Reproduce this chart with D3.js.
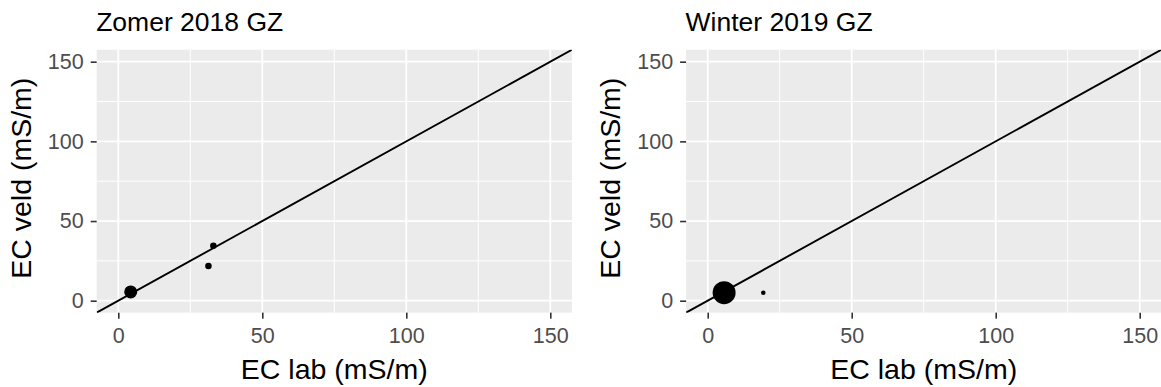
<!DOCTYPE html>
<html>
<head>
<meta charset="utf-8">
<script src="https://cdn.jsdelivr.net/npm/d3@7"></script>
<style>
  html, body { margin: 0; padding: 0; background: #ffffff; }
  svg { display: block; font-family: "Liberation Sans", Arial, sans-serif; }
</style>
</head>
<body>
<svg id="chart" width="1161" height="387"></svg>
<script>
// Field EC vs lab EC, one panel per sampling campaign
const panelTitles = ["Zomer 2018 GZ", "Winter 2019 GZ"];

// Zomer 2018 GZ
const zomerLab  = [4.3, 33.0, 31.3];
const zomerVeld = [5.5, 34.5, 21.8];
const zomerN    = [4, 1, 1];

// Winter 2019 GZ
const winterLab  = [5.7, 19.3];
const winterVeld = [5.0, 5.0];
const winterN    = [25, 1];

const majorTicks = [0, 50, 100, 150];
const minorTicks = [25, 75, 125];
const axisLimits = [0, 150];

const xTitle = "EC lab (mS/m)";
const yTitle = "EC veld (mS/m)";

const panels = [
  { title: panelTitles[0], lab: zomerLab,  veld: zomerVeld,  n: zomerN,  left: 96.7,  rUnit: 3.25 },
  { title: panelTitles[1], lab: winterLab, veld: winterVeld, n: winterN, left: 686.1, rUnit: 2.3 }
];

const svg = d3.select("#chart");
const panelW = 475.2, panelTop = 49.75, panelBottom = 312.65;
const pad = (axisLimits[1] - axisLimits[0]) * 0.05;
const dom = [axisLimits[0] - pad, axisLimits[1] + pad];

panels.forEach((p, i) => {
  const x = d3.scaleLinear().domain(dom).range([p.left, p.left + panelW]);
  const y = d3.scaleLinear().domain(dom).range([panelBottom, panelTop]);
  const r = d3.scaleSqrt().domain([0, 1]).range([0, p.rUnit]);
  const g = svg.append("g");

  const clipId = "clip" + i;
  svg.append("defs").append("clipPath").attr("id", clipId)
    .append("rect").attr("x", x.range()[0]).attr("y", panelTop)
    .attr("width", panelW).attr("height", panelBottom - panelTop);

  // panel background
  g.append("rect").attr("x", x.range()[0]).attr("y", panelTop)
    .attr("width", panelW).attr("height", panelBottom - panelTop).attr("fill", "#EBEBEB");

  // minor grid
  g.selectAll(".vminor").data(minorTicks).join("line")
    .attr("x1", d => x(d)).attr("x2", d => x(d)).attr("y1", panelTop).attr("y2", panelBottom)
    .attr("stroke", "#ffffff").attr("stroke-width", 1);
  g.selectAll(".hminor").data(minorTicks).join("line")
    .attr("y1", d => y(d)).attr("y2", d => y(d)).attr("x1", x.range()[0]).attr("x2", x.range()[1])
    .attr("stroke", "#ffffff").attr("stroke-width", 1);
  // major grid
  g.selectAll(".vmajor").data(majorTicks).join("line")
    .attr("x1", d => x(d)).attr("x2", d => x(d)).attr("y1", panelTop).attr("y2", panelBottom)
    .attr("stroke", "#ffffff").attr("stroke-width", 1.8);
  g.selectAll(".hmajor").data(majorTicks).join("line")
    .attr("y1", d => y(d)).attr("y2", d => y(d)).attr("x1", x.range()[0]).attr("x2", x.range()[1])
    .attr("stroke", "#ffffff").attr("stroke-width", 1.8);

  // 1:1 line
  const plotArea = g.append("g").attr("clip-path", `url(#${clipId})`);
  plotArea.append("line")
    .attr("x1", x(dom[0])).attr("y1", y(dom[0]))
    .attr("x2", x(dom[1])).attr("y2", y(dom[1]))
    .attr("stroke", "#000000").attr("stroke-width", 1.9);

  // points
  const pts = p.lab.map((v, k) => ({ lab: v, veld: p.veld[k], n: p.n[k] }));
  g.selectAll("circle.pt").data(pts).join("circle")
    .attr("class", "pt")
    .attr("cx", d => x(d.lab)).attr("cy", d => y(d.veld)).attr("r", d => r(d.n))
    .attr("fill", "#000000");

  // axes
  const xAxis = d3.axisBottom(x).tickValues(majorTicks).tickSize(6).tickPadding(9);
  const yAxis = d3.axisLeft(y).tickValues(majorTicks).tickSize(6).tickPadding(7);

  const gx = g.append("g").attr("transform", `translate(0,${panelBottom})`).call(xAxis);
  const gy = g.append("g").attr("transform", `translate(${x.range()[0]},0)`).call(yAxis);
  [gx, gy].forEach(a => {
    a.select(".domain").remove();
    a.selectAll(".tick line").attr("stroke", "#333333").attr("stroke-width", 1.6);
    a.selectAll(".tick text").attr("fill", "#4D4D4D")
      .style("font-size", "21.5px").style("font-family", "'Liberation Sans', Arial, sans-serif");
  });

  // title
  g.append("text").attr("x", x.range()[0] - 0.5).attr("y", 31)
    .attr("font-size", 26.5).attr("fill", "#000000").text(p.title);

  // axis titles
  g.append("text").attr("x", (x.range()[0] + x.range()[1]) / 2).attr("y", 379)
    .attr("text-anchor", "middle").attr("font-size", 28.5).attr("fill", "#000000").text(xTitle);
  g.append("text")
    .attr("transform", `translate(${x.range()[0] - 66},${(panelTop + panelBottom) / 2 - 3}) rotate(-90)`)
    .attr("text-anchor", "middle").attr("font-size", 28.5).attr("fill", "#000000").text(yTitle);
});
</script>
</body>
</html>
